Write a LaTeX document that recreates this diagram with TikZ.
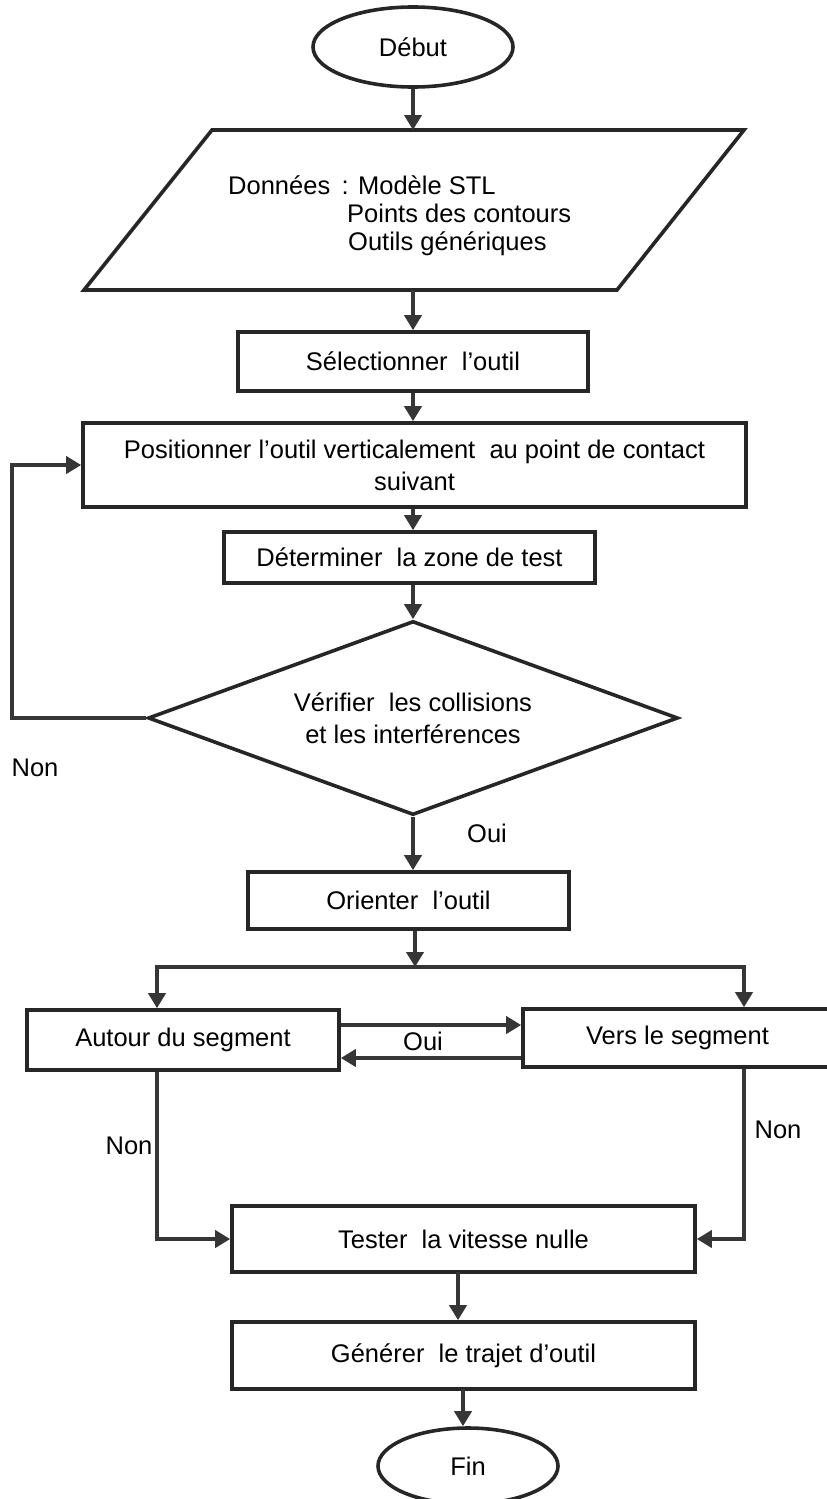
\documentclass[tikz,border=0pt]{standalone}
\usepackage{fontspec}
\setmainfont{Liberation Sans}
\usetikzlibrary{arrows.meta,shapes.geometric}
\definecolor{boxc}{HTML}{262626}
\definecolor{linec}{HTML}{363636}
\newcommand\flowfont{\fontsize{25.5}{32}\selectfont}
\tikzset{
  box/.style={draw=boxc, line width=3.6pt, rectangle, inner sep=0pt, align=center, font=\flowfont},
  term/.style={draw=boxc, line width=3.6pt, ellipse, inner sep=0pt, font=\flowfont},
  flow/.style={draw=linec, line width=4.6pt, line join=miter, -{Triangle[length=15pt,width=17pt]}},
  lbl/.style={font=\flowfont, inner sep=0pt}
}
\begin{document}
\begin{tikzpicture}[x=1pt,y=-1pt]
\useasboundingbox (0,0) rectangle (827,1499);

% terminals and process boxes
\node[term, minimum width=200pt, minimum height=80pt] (debut) at (413,47) {Début};

% data parallelogram
\coordinate (p1) at (212,130);
\coordinate (p2) at (744,130);
\coordinate (p3) at (617,290);
\coordinate (p4) at (84,290);
\draw[draw=boxc, line width=3.6pt, line join=miter] (p1) -- (p2) -- (p3) -- (p4) -- cycle;
\node[lbl, anchor=base west] (d1) at (228,194) {Données \,: Modèle STL};
\node[lbl, anchor=base west] (d2) at (347,222) {Points des contours};
\node[lbl, anchor=base west] (d3) at (348,250) {Outils génériques};
\coordinate (dtop) at (413,130);
\coordinate (dbot) at (413,290);

\node[box, minimum width=350pt, minimum height=59pt] (sel) at (413,361.5) {Sélectionner \ l’outil};
\node[box, minimum width=663pt, minimum height=84pt] (pos) at (414.5,465)
  {Positionner l’outil verticalement \ au point de contact\\suivant};
\node[box, minimum width=371pt, minimum height=51pt] (det) at (409.5,557.5) {Déterminer \ la zone de test};
\node[box, diamond, aspect=2.73, minimum width=530pt, minimum height=194pt] (dia) at (413,718)
  {Vérifier \ les collisions\\et les interférences};
\node[box, minimum width=321pt, minimum height=57pt] (ori) at (408.5,900.5) {Orienter \ l’outil};
\node[box, minimum width=312pt, minimum height=60pt] (aut) at (183,1040) {Autour du segment};
\node[box, minimum width=309pt, minimum height=58pt] (vers) at (677.5,1038) {Vers le segment};
\node[box, minimum width=463pt, minimum height=66pt] (test) at (463.5,1239) {Tester \ la vitesse nulle};
\node[box, minimum width=463pt, minimum height=67pt] (gen) at (463.5,1355.5) {Générer \ le trajet d’outil};
\node[term, minimum width=180pt, minimum height=76pt] (fin) at (468,1466) {Fin};

% helper coordinates for routed connectors
\coordinate (col) at (413,0);
\coordinate (lp) at (12,0);
\coordinate (jn) at (415,967);
\coordinate (jl) at (157,967);
\coordinate (jr) at (744,967);
\coordinate (up) at (0,1025);
\coordinate (dn) at (0,1058);

% main flow
\draw[flow] (debut.south) -- (dtop);
\draw[flow] (dbot) -- (sel.north);
\draw[flow] (sel.south) -- (col |- pos.north);
\draw[flow] (col |- pos.south) -- (col |- det.north);
\draw[flow] (col |- det.south) -- (dia.north);
\draw[flow] (dia.south) -- (dia.south |- ori.north);
\draw[flow] (dia.west) -| (lp |- pos.west) -- (pos.west);
\draw[flow] (jn |- ori.south) -- (jn);
\draw[flow] (jr) -- (jl) -- (jl |- aut.north);
\draw[flow] (jl) -- (jr) -- (jr |- vers.north);
\draw[flow] (aut.east |- up) -- (vers.west |- up);
\draw[flow] (vers.west |- dn) -- (aut.east |- dn);
\draw[flow] (aut.south -| jl) |- (test.west);
\draw[flow] (vers.south -| jr) |- (test.east);
\draw[flow] (458,1272) coordinate (t1) -- (t1 |- gen.north);
\draw[flow] (463,1389) coordinate (g1) -- (g1 |- fin.north);

% branch labels
\node[lbl] (non1) at (35,768) {Non};
\node[lbl] (oui1) at (487,833) {Oui};
\node[lbl] (oui2) at (423,1041) {Oui};
\node[lbl] (non2) at (129,1146) {Non};
\node[lbl] (non3) at (778,1130) {Non};
\end{tikzpicture}
\end{document}
